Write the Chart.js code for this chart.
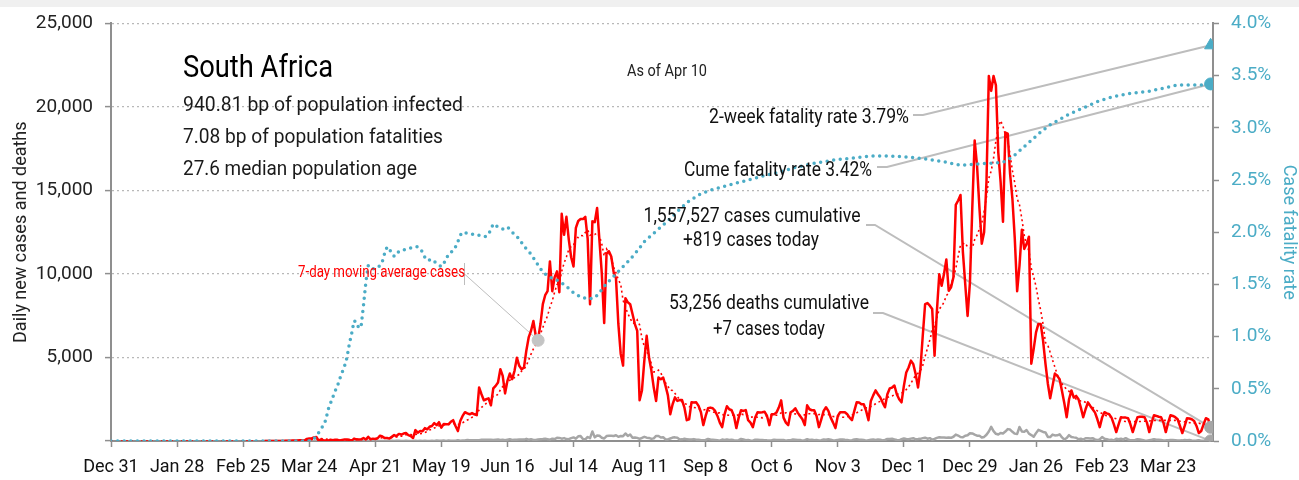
<!DOCTYPE html>
<html>
<head>
<meta charset="utf-8">
<title>South Africa</title>
<script src="https://cdn.jsdelivr.net/npm/chart.js@4.4.1/dist/chart.umd.min.js"></script>
<style>
  html, body { margin: 0; padding: 0; background: #fff; }
  #wrap { width: 1299px; height: 480px; }
</style>
</head>
<body>
<div id="wrap"><canvas id="my_chart" width="1299" height="480"></canvas></div>
<script>
// day 0 = Dec 31 2019, one value per day up to Apr 10 2021 (day 466)
const tick_labels = ['Dec 31', 'Jan 28', 'Feb 25', 'Mar 24', 'Apr 21', 'May 19', 'Jun 16', 'Jul 14', 'Aug 11',
    'Sep 8', 'Oct 6', 'Nov 3', 'Dec 1', 'Dec 29', 'Jan 26', 'Feb 23', 'Mar 23'];
const tick_step = 28;
const first_case_day = 65;   // Mar 5

// daily new cases, month by month
const cases_mar20 = [0, 0, 0, 0, 1, 0, 1, 1, 4, 0, 6, 4, 7, 14, 13, 11, 23, 31, 34, 52, 38, 34, 128, 152, 155, 218, 243, 17, 93, 46, 27];
const cases_apr20 = [27, 82, 43, 80, 70, 31, 63, 96, 89, 69, 25, 145, 100, 85, 99, 178, 87, 251, 104, 142, 124, 165, 318, 267, 174, 178, 143, 247, 354, 297];
const cases_may20 = [424, 385, 447, 475, 352, 300, 178, 653, 498, 595, 585, 770, 700, 850, 900, 1070, 950, 1128, 800, 1016, 1009, 1000, 1150, 1247, 900, 594, 1200, 1500, 1722, 1650, 1600];
const cases_jun20 = [1674, 1600, 1544, 3206, 2800, 2435, 2500, 2550, 2138, 3147, 3300, 3503, 4300, 3900, 2850, 3600, 4038, 3700, 4200, 4990, 4500, 4300, 4394, 5400, 6200, 6600, 7185, 6300, 6116, 7000];
const cases_jul20 = [8194, 8728, 8966, 10748, 8966, 9800, 10154, 8900, 13598, 12348, 13420, 12058, 11000, 10450, 12757, 13172, 13285, 13285, 13420, 12100, 8194, 13150, 13104, 13944, 12000, 10000, 7066, 11223, 11362, 11045, 10107];
const cases_aug20 = [9738, 7007, 5225, 4513, 8550, 8300, 8194, 7600, 7000, 6591, 2435, 3028, 4800, 6294, 5000, 4216, 3200, 2400, 3800, 3700, 3800, 3300, 2730, 1600, 2200, 2613, 2400, 2450, 2450, 2000, 1247];
const cases_sep20 = [1300, 2316, 2300, 2316, 2100, 1722, 950, 1500, 1960, 2000, 1960, 1800, 1500, 1100, 831, 1600, 2078, 1900, 1841, 1500, 772, 1400, 1841, 1800, 1850, 1247, 1100, 831, 1400, 1722];
const cases_oct20 = [1700, 1722, 1750, 1500, 950, 1600, 1600, 1700, 2000, 2435, 1400, 1100, 950, 1722, 1800, 1960, 1700, 1500, 1300, 950, 2138, 1900, 1841, 1841, 1500, 831, 1300, 1800, 2019, 1800, 1400];
const cases_nov20 = [1100, 772, 1500, 1722, 1722, 1722, 1600, 1400, 1247, 1800, 2316, 2300, 2200, 2200, 1800, 1247, 2400, 2731, 3028, 2800, 2600, 2300, 2019, 2800, 3147, 3200, 3325, 2800, 2500, 2316];
const cases_dec20 = [3300, 4097, 4400, 4810, 4600, 4000, 3206, 4300, 6300, 8194, 8254, 8100, 7900, 5107, 7800, 9976, 9300, 10000, 10867, 9000, 9200, 9800, 14132, 14400, 14726, 11342, 9400, 7482, 9500, 14000, 17992];
const cases_jan21 = [16500, 14000, 11816, 12500, 15500, 21851, 20960, 21851, 21300, 17280, 15500, 13123, 18467, 18400, 16000, 14489, 12113, 8966, 10500, 12648, 11500, 11800, 12232, 4632, 5500, 6500, 7007, 7000, 6000, 4632, 3444];
const cases_feb21 = [2553, 3300, 4038, 3900, 3700, 3000, 2256, 1425, 2500, 3028, 2600, 2700, 2500, 2000, 1425, 1900, 2316, 2100, 1900, 1700, 1300, 831, 1400, 1722, 1650, 1600, 1400, 1000];
const cases_mar21 = [534, 1000, 1425, 1400, 1400, 1366, 1000, 534, 1000, 1425, 1450, 1450, 1425, 1100, 534, 1100, 1544, 1500, 1450, 1425, 1100, 534, 1100, 1544, 1500, 1425, 1300, 900, 475, 900, 1366];
const cases_apr21 = [1350, 1300, 1200, 900, 475, 600, 1000, 1366, 1300, 819];

// daily deaths
const deaths_mar20 = [0, 0, 0, 0, 0, 0, 0, 0, 0, 0, 0, 0, 0, 0, 0, 0, 0, 0, 0, 0, 0, 0, 0, 0, 0, 0, 1, 0, 1, 1, 2];
const deaths_apr20 = [4, 2, 2, 2, 2, 5, 1, 2, 3, 0, 1, 2, 3, 2, 0, 2, 4, 2, 3, 2, 2, 4, 6, 0, 5, 3, 3, 10, 0, 15];
const deaths_may20 = [13, 5, 7, 10, 5, 6, 2, 8, 5, 13, 3, 11, 0, 7, 9, 3, 27, 10, 16, 27, 5, 27, 17, 13, 18, 52, 21, 30, 26, 57, 40];
const deaths_jun20 = [41, 50, 40, 52, 69, 74, 79, 82, 78, 57, 82, 84, 58, 69, 43, 77, 111, 63, 78, 75, 94, 88, 83, 128, 75, 111, 64, 63, 95, 111];
const deaths_jul20 = [120, 134, 111, 83, 138, 116, 189, 187, 139, 174, 117, 108, 175, 216, 143, 280, 293, 115, 102, 240, 167, 572, 216, 334, 315, 190, 150, 298, 315, 312, 301];
const deaths_aug20 = [342, 250, 300, 290, 450, 301, 388, 201, 213, 188, 130, 182, 250, 199, 183, 130, 158, 303, 301, 210, 222, 97, 93, 148, 203, 218, 190, 88, 99, 131, 110];
const deaths_sep20 = [84, 87, 113, 82, 71, 40, 47, 60, 126, 88, 78, 67, 47, 23, 84, 55, 89, 58, 78, 40, 34, 50, 125, 93, 51, 60, 33, 18, 80, 70];
const deaths_oct20 = [55, 53, 51, 40, 34, 43, 75, 56, 60, 64, 67, 21, 44, 49, 87, 78, 58, 55, 17, 53, 109, 61, 78, 43, 59, 33, 50, 91, 75, 103, 82];
const deaths_nov20 = [35, 40, 64, 85, 91, 75, 65, 30, 45, 88, 101, 72, 78, 55, 20, 50, 73, 91, 66, 89, 71, 30, 60, 118, 122, 131, 98, 57, 40, 105];
const deaths_dec20 = [150, 115, 106, 142, 169, 103, 114, 130, 173, 200, 138, 171, 72, 120, 188, 226, 210, 214, 189, 206, 190, 254, 387, 326, 240, 220, 320, 345, 465, 450, 377];
const deaths_jan21 = [316, 321, 205, 244, 373, 568, 844, 589, 431, 386, 478, 450, 566, 712, 686, 547, 441, 422, 839, 574, 548, 651, 438, 356, 254, 471, 665, 606, 541, 512, 243];
const deaths_feb21 = [239, 383, 335, 337, 399, 214, 88, 182, 350, 240, 217, 198, 105, 132, 81, 166, 160, 156, 165, 101, 44, 96, 238, 130, 112, 63, 72, 36];
const deaths_mar21 = [138, 100, 136, 92, 170, 94, 42, 43, 59, 106, 85, 65, 34, 21, 53, 76, 111, 76, 72, 64, 32, 39, 52, 58, 54, 45, 31, 27, 38, 62, 49];
const deaths_apr21 = [54, 30, 21, 28, 46, 21, 17, 30, 50, 7];

// cumulative case fatality rate (%), by day
const cfr_days = [0, 84, 86, 88, 90, 91, 92, 93, 94, 95, 96, 97, 98, 99, 100, 101, 102, 103, 104, 105, 106, 107, 108, 109, 110, 112, 114,
    115, 116, 117, 118, 119, 120, 121, 122, 124, 126, 128, 130, 131, 132, 133, 134, 136, 138, 140, 141, 142, 143, 144, 145, 146, 147,
    148, 149, 151, 153, 155, 157, 159, 160, 161, 162, 164, 166, 168, 170, 172, 174, 176, 178, 180, 182, 184, 186, 188, 190, 193, 196,
    199, 202, 205, 207, 209, 211, 214, 217, 220, 223, 226, 229, 232, 235, 238, 241, 245, 250, 255, 260, 265, 270, 275, 282, 290, 298,
    306, 314, 322, 330, 338, 346, 354, 360, 366, 372, 378, 382, 386, 390, 394, 398, 402, 406, 410, 414, 419, 425, 432, 440, 446, 452,
    458, 462, 466];
const cfr_pct = [0, 0, 0.02, 0.08, 0.15, 0.2, 0.3, 0.36, 0.42, 0.48, 0.53, 0.6, 0.66, 0.72, 0.8, 0.93, 1.03, 1.15, 1.14, 1.08, 1.1, 1.3, 1.52, 1.68, 1.65, 1.65, 1.68,
    1.72, 1.8, 1.86, 1.84, 1.79, 1.77, 1.78, 1.82, 1.83, 1.84, 1.86, 1.86, 1.84, 1.81, 1.76, 1.73, 1.74, 1.7, 1.67, 1.7, 1.74, 1.79, 1.81, 1.82, 1.86, 1.91,
    1.97, 2.0, 1.99, 1.98, 1.98, 1.96, 1.96, 1.98, 2.03, 2.08, 2.05, 2.03, 2.05, 2.0, 1.96, 1.9, 1.84, 1.79, 1.72, 1.65, 1.6, 1.57, 1.55, 1.53, 1.48, 1.42,
    1.38, 1.36, 1.37, 1.42, 1.48, 1.53, 1.6, 1.67, 1.74, 1.82, 1.91, 1.97, 2.03, 2.09, 2.15, 2.22, 2.3, 2.37, 2.41, 2.44, 2.47, 2.5, 2.53, 2.57, 2.62, 2.66,
    2.69, 2.71, 2.73, 2.73, 2.72, 2.7, 2.67, 2.64, 2.65, 2.66, 2.67, 2.72, 2.8, 2.88, 2.96, 3.03, 3.08, 3.13, 3.17, 3.21, 3.26, 3.3, 3.33, 3.35, 3.38, 3.41,
    3.41, 3.41, 3.42];

// figures quoted in the notes
const last_day = 466;
const ma_marker_day = 181;
const two_week_rate = 3.79;
const cume_rate = 3.42;
const cases_total = 1557527;
const cases_today = 819;
const deaths_total = 53256;
const deaths_today = 7;

const FONT = "Roboto, 'Liberation Sans', sans-serif";
const RED = '#ff0000';
const BLUE = '#4bacc6';
const GREY = '#a6a6a6';
const AXIS = '#8f8f8f';
const LEADER = '#bdbdbd';

// nothing was reported from Dec 31 to Feb 29
const cases = [].concat(new Array(61).fill(0), cases_mar20, cases_apr20, cases_may20, cases_jun20, cases_jul20, cases_aug20,
    cases_sep20, cases_oct20, cases_nov20, cases_dec20, cases_jan21, cases_feb21, cases_mar21, cases_apr21);
const deaths = [].concat(new Array(61).fill(0), deaths_mar20, deaths_apr20, deaths_may20, deaths_jun20, deaths_jul20, deaths_aug20,
    deaths_sep20, deaths_oct20, deaths_nov20, deaths_dec20, deaths_jan21, deaths_feb21, deaths_mar21, deaths_apr21);
const days = cases.map((_, i) => i);

// trailing 7-day average of new cases
const moving_avg = cases.map((_, i) => {
    const win = cases.slice(Math.max(0, i - 6), i + 1);
    return win.reduce((a, b) => a + b, 0) / win.length;
});

const notes = {
    id: 'notes',
    beforeDraw(chart) {
        const c = chart.ctx;
        c.save();
        c.fillStyle = '#f0f0f0';
        c.fillRect(0, 0, chart.width, 7);
        c.restore();
    },
    beforeDatasetsDraw(chart) {
        const c = chart.ctx;
        const x = chart.scales.x, y = chart.scales.y, y1 = chart.scales.y1;
        const xe = x.getPixelForValue(last_day);
        const leader = (pts, w) => {
            c.beginPath();
            c.moveTo(pts[0][0], pts[0][1]);
            pts.slice(1).forEach(p => c.lineTo(p[0], p[1]));
            c.lineWidth = w;
            c.strokeStyle = LEADER;
            c.stroke();
        };
        c.save();
        leader([[913, 115], [923, 115], [xe, y1.getPixelForValue(two_week_rate)]], 2);
        leader([[877, 167], [887, 167], [xe, y1.getPixelForValue(cume_rate)]], 2);
        leader([[866, 225], [875, 225], [xe, y.getPixelForValue(cases_today)]], 2);
        leader([[873, 313], [883, 313], [xe, y.getPixelForValue(deaths_today)]], 2);
        leader([[464.5, 263], [464.5, 285]], 1);
        leader([[464.5, 274], [x.getPixelForValue(ma_marker_day), y.getPixelForValue(moving_avg[ma_marker_day])]], 1);
        c.restore();
    },
    afterDraw(chart) {
        const c = chart.ctx;
        // the last argument squeezes each line to the narrow width of the set type
        const put = (str, px, py, size, color, align, w) => {
            c.font = size + 'px ' + FONT;
            c.fillStyle = color;
            c.textAlign = align;
            c.textBaseline = 'alphabetic';
            c.fillText(str, px, py, w);
        };
        c.save();
        put('South Africa', 183, 77, 32, '#000', 'left', 150);
        put('940.81 bp of population infected', 183, 111, 20.5, '#1a1a1a', 'left', 280);
        put('7.08 bp of population fatalities', 183, 143, 20.5, '#1a1a1a', 'left', 260);
        put('27.6 median population age', 183, 175, 20.5, '#1a1a1a', 'left', 234);
        put('As of Apr 10', 627, 76, 17, '#222', 'left', 80);
        put('2-week fatality rate ' + two_week_rate.toFixed(2) + '%', 909, 123, 19.5, '#111', 'right', 200);
        put('Cume fatality rate ' + cume_rate.toFixed(2) + '%', 872, 176, 19.5, '#111', 'right', 188);
        put(cases_total.toLocaleString('en-US') + ' cases cumulative', 752, 222, 19.5, '#111', 'center', 217);
        put('+' + cases_today + ' cases today', 751, 246, 19.5, '#111', 'center', 136);
        put(deaths_total.toLocaleString('en-US') + ' deaths cumulative', 769, 309, 19.5, '#111', 'center', 200);
        put('+' + deaths_today + ' cases today', 769, 335, 19.5, '#111', 'center', 112);
        put('7-day moving average cases', 298, 277, 16.5, RED, 'left', 167);
        c.restore();
    }
};

Chart.defaults.font.family = FONT;

new Chart(document.getElementById('my_chart'), {
    type: 'line',
    data: {
        labels: days,
        datasets: [
            { type: 'scatter', data: [{ x: last_day, y: two_week_rate }], yAxisID: 'y1', pointStyle: 'triangle',
              pointRadius: 7, backgroundColor: BLUE, borderColor: BLUE },
            { type: 'scatter', data: [{ x: last_day, y: cume_rate }], yAxisID: 'y1', pointStyle: 'circle',
              pointRadius: 6, backgroundColor: BLUE, borderColor: BLUE },
            { type: 'scatter', data: [{ x: last_day, y: cases_today }], yAxisID: 'y', pointRadius: 6,
              backgroundColor: GREY, borderColor: GREY },
            { type: 'scatter', data: [{ x: last_day, y: deaths_today }], yAxisID: 'y', pointRadius: 6,
              backgroundColor: GREY, borderColor: GREY },
            { type: 'scatter', data: [{ x: ma_marker_day, y: moving_avg[ma_marker_day] }], yAxisID: 'y', pointRadius: 6,
              backgroundColor: '#c4c4c4', borderColor: '#c4c4c4' },
            { label: 'Case fatality rate', data: cfr_days.map((d, i) => ({ x: d, y: cfr_pct[i] })), yAxisID: 'y1',
              borderColor: BLUE, borderWidth: 3.5, borderDash: [0, 6.6], borderCapStyle: 'round', pointRadius: 0 },
            { label: '7-day moving average', data: moving_avg, yAxisID: 'y',
              borderColor: RED, borderWidth: 1.6, borderDash: [2, 3], pointRadius: 0 },
            { label: 'Daily cases', data: cases.map((v, i) => i < first_case_day ? null : v), yAxisID: 'y',
              borderColor: RED, borderWidth: 2.5, pointRadius: 0, borderJoinStyle: 'round' },
            { label: 'Daily deaths', data: deaths.map((v, i) => i < first_case_day ? null : v), yAxisID: 'y',
              borderColor: GREY, borderWidth: 2.5, pointRadius: 0, borderJoinStyle: 'round' }
        ]
    },
    options: {
        responsive: false,
        animation: false,
        devicePixelRatio: 1,
        events: [],
        layout: { padding: { top: 20, left: 0, right: 0, bottom: 0 } },
        plugins: { legend: { display: false }, tooltip: { enabled: false } },
        scales: {
            x: {
                type: 'linear',
                min: 0,
                max: 467,
                afterBuildTicks: s => { s.ticks = tick_labels.map((_, i) => ({ value: i * tick_step })); },
                afterFit: s => { s.height = 39; },
                ticks: {
                    autoSkip: false, maxRotation: 0, padding: 10,
                    color: '#111', font: { size: 18 },
                    callback: v => tick_labels[v / tick_step]
                },
                grid: { drawOnChartArea: false, drawTicks: true, tickLength: 6, tickColor: AXIS, tickWidth: 1.5 },
                border: { color: AXIS, width: 2 }
            },
            y: {
                position: 'left',
                min: 0,
                max: 25000,
                afterFit: s => { s.width = 111; },
                ticks: {
                    stepSize: 5000, padding: 12, color: '#222', font: { size: 19 },
                    callback: v => v === 0 ? '' : v.toLocaleString('en-US')
                },
                grid: { color: '#b8b8b8', lineWidth: 1.2, tickLength: 6, tickColor: AXIS, tickWidth: 1.5, tickBorderDash: [] },
                border: { color: AXIS, width: 2, dash: [2, 3] },
                title: { display: true, text: 'Daily new cases and deaths', color: '#222', font: { size: 18 },
                         padding: { top: 11, bottom: 0 } }
            },
            y1: {
                position: 'right',
                min: 0,
                max: 4,
                afterFit: s => { s.width = 86; },
                ticks: {
                    stepSize: 0.5, padding: 12, color: BLUE, font: { size: 19 },
                    callback: v => v.toFixed(1) + '%'
                },
                grid: { drawOnChartArea: false, tickLength: 6, tickColor: AXIS, tickWidth: 1.5 },
                border: { color: AXIS, width: 2 },
                title: { display: true, text: 'Case fatality rate', color: BLUE, font: { size: 18 },
                         padding: { top: 0, bottom: 0 } }
            }
        }
    },
    plugins: [notes]
});
</script>
</body>
</html>
